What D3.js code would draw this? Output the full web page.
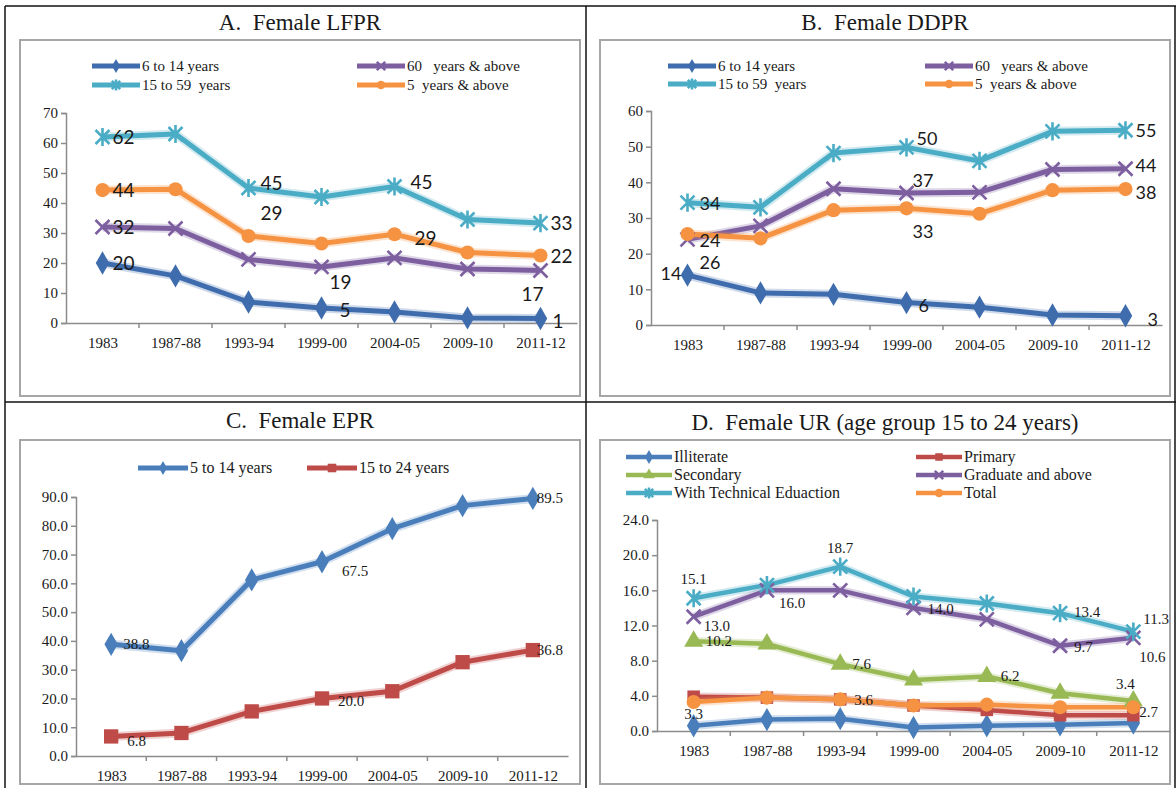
<!DOCTYPE html>
<html>
<head>
<meta charset="utf-8">
<script src="https://cdn.jsdelivr.net/npm/d3@7"></script>
<style>
body { margin: 0; background: #fff; }
svg text { fill: #1a1a1a; white-space: pre; }
</style>
</head>
<body>
<div id="chart"></div>
<script>
// ---- data ----
const years = ['1983', '1987-88', '1993-94', '1999-00', '2004-05', '2009-10', '2011-12'];

// A. Female LFPR
const lfprNames = ['6 to 14 years', '15 to 59  years', '60   years & above', '5  years & above'];
const lfpr6to14 = [20, 15.7, 7, 5, 3.7, 1.7, 1.5];
const lfpr15to59 = [62, 63, 45, 42, 45.5, 34.5, 33.3];
const lfpr60plus = [32, 31.5, 21.2, 18.7, 21.7, 18, 17.5];
const lfpr5plus = [44.3, 44.6, 29, 26.5, 29.6, 23.5, 22.5];
const lfprTicks = [0, 10, 20, 30, 40, 50, 60, 70];

// B. Female DDPR
const ddprNames = ['6 to 14 years', '15 to 59  years', '60   years & above', '5  years & above'];
const ddpr6to14 = [14, 9, 8.6, 6.3, 5, 2.8, 2.6];
const ddpr15to59 = [34.3, 33, 48.2, 49.8, 46, 54.3, 54.6];
const ddpr60plus = [24, 27.8, 38.2, 37, 37.2, 43.6, 43.8];
const ddpr5plus = [25.5, 24.3, 32.2, 32.7, 31.2, 37.8, 38.1];
const ddprTicks = [0, 10, 20, 30, 40, 50, 60];

// C. Female EPR
const eprNames = ['5 to 14 years', '15 to 24 years'];
const epr5to14 = [38.8, 36.6, 61.2, 67.5, 79, 87, 89.5];
const epr15to24 = [6.8, 8, 15.5, 20, 22.5, 32.6, 36.8];
const eprTicks = [0, 10, 20, 30, 40, 50, 60, 70, 80, 90];

// D. Female UR (age group 15 to 24 years)
const urNames = ['Illiterate', 'Primary', 'Secondary', 'Graduate and above', 'With Technical Eduaction', 'Total'];
const urIlliterate = [0.6, 1.3, 1.4, 0.4, 0.6, 0.7, 0.9];
const urPrimary = [3.9, 3.8, 3.6, 2.9, 2.4, 1.8, 1.8];
const urSecondary = [10.2, 9.9, 7.6, 5.8, 6.2, 4.3, 3.4];
const urGraduate = [13.0, 16.0, 16.0, 14.0, 12.7, 9.7, 10.6];
const urTechnical = [15.1, 16.6, 18.7, 15.3, 14.5, 13.4, 11.3];
const urTotal = [3.3, 3.8, 3.6, 2.9, 3.0, 2.7, 2.7];
const urTicks = [0, 4, 8, 12, 16, 20, 24];

// ---- colours ----
const blue = '#4a7ebb', darkBlue = '#3f6cad', red = '#be4b48', green = '#98b954',
	purple = '#7d5fa0', teal = '#4aacc5', orange = '#f59343';

const W = 1176, H = 788;
const serif = '"Liberation Serif", "DejaVu Serif", serif';
const sans = 'Lato, "Open Sans", sans-serif';

const svg = d3.select('#chart').append('svg').attr('width', W).attr('height', H);

// outer table lines
const grid = svg.append('g').attr('stroke', '#111').attr('stroke-width', 1.5);
grid.append('line').attr('x1', 5).attr('x2', W).attr('y1', 6).attr('y2', 6);
grid.append('line').attr('x1', 5).attr('x2', W).attr('y1', 402).attr('y2', 402);
grid.append('line').attr('x1', 5).attr('x2', 5).attr('y1', 6).attr('y2', H);
grid.append('line').attr('x1', 586).attr('x2', 586).attr('y1', 6).attr('y2', H);
grid.append('line').attr('x1', W - 1).attr('x2', W - 1).attr('y1', 6).attr('y2', H);

// marker shapes
const marker = (g, type, color, size) => {
	if (type === 'x' || type === 'star') {
		const r = size;
		let d = `M${-r},${-r}L${r},${r}M${-r},${r}L${r},${-r}`;
		if (type === 'star') d += `M0,${-r * 1.3}L0,${r * 1.3}`;
		g.append('path').attr('d', d).attr('stroke', color).attr('stroke-width', 2.6).attr('fill', 'none');
		return;
	}
	const sym = { diamond: d3.symbolDiamond, square: d3.symbolSquare, circle: d3.symbolCircle, triangle: d3.symbolTriangle }[type];
	g.append('path').attr('d', d3.symbol().type(sym).size(size * size * 3.2)()).attr('fill', color);
};

const drawPanel = (p) => {
	const g = svg.append('g');
	// chart area box
	g.append('rect')
		.attr('x', p.box[0]).attr('y', p.box[1])
		.attr('width', p.box[2] - p.box[0]).attr('height', p.box[3] - p.box[1])
		.attr('fill', 'none').attr('stroke', '#a6a6a6').attr('stroke-width', 2);
	g.append('text')
		.attr('x', (p.box[0] + p.box[2]) / 2).attr('y', p.titleY)
		.attr('text-anchor', 'middle')
		.style('font-family', serif).style('font-size', '23px')
		.text(p.title);

	const x = d3.scalePoint().domain(years).range([p.x0, p.x1]).padding(0.5);
	const y = d3.scaleLinear().domain([0, p.yMax]).range([p.y0, p.y1]);

	// axes
	const yAxis = g.append('g')
		.attr('transform', `translate(${p.x0},0)`)
		.call(d3.axisLeft(y).tickValues(p.ticks).tickSize(5).tickFormat(p.fmt));
	const xAxis = g.append('g')
		.attr('transform', `translate(0,${p.y0})`)
		.call(d3.axisBottom(x).tickSize(0).tickPadding(14));
	[yAxis, xAxis].forEach((a) => {
		a.select('.domain').attr('stroke', '#8c8c8c').attr('stroke-width', 1.5);
		a.selectAll('line').attr('stroke', '#8c8c8c').attr('stroke-width', 1.5);
		a.selectAll('text').style('font-family', serif).style('font-size', p.tickSize).attr('fill', '#1a1a1a');
	});
	// category boundary ticks
	const step = x.step();
	years.forEach((yr, i) => {
		if (i === 0) return;
		g.append('line')
			.attr('x1', x(yr) - step / 2).attr('x2', x(yr) - step / 2)
			.attr('y1', p.y0).attr('y2', p.y0 + 5)
			.attr('stroke', '#8c8c8c').attr('stroke-width', 1.5);
	});

	const line = d3.line().x((d, i) => x(years[i])).y((d) => y(d));

	// lines, then markers
	p.series.forEach((s) => {
		g.append('path').attr('d', line(s.values))
			.attr('fill', 'none').attr('stroke', s.color).attr('stroke-opacity', 0.25)
			.attr('stroke-width', p.lw + 4).attr('stroke-linejoin', 'round');
		g.append('path').attr('d', line(s.values))
			.attr('fill', 'none').attr('stroke', s.color)
			.attr('stroke-width', p.lw).attr('stroke-linejoin', 'round');
	});
	p.series.forEach((s) => {
		s.values.forEach((v, i) => {
			const m = g.append('g').attr('transform', `translate(${x(years[i])},${y(v)})`);
			marker(m, s.marker, s.color, s.ms);
		});
	});

	// data labels
	p.labels.forEach((l) => {
		const s = p.series[l.s];
		g.append('text')
			.attr('x', x(years[l.i]) + l.dx).attr('y', y(s.values[l.i]) + l.dy)
			.attr('text-anchor', l.a || 'start')
			.style('font-family', p.labelFont).style('font-size', p.labelSize)
			.text(l.t);
	});

	// legend
	p.legend.forEach((c) => {
		const s = p.series[c.s];
		g.append('line')
			.attr('x1', c.x).attr('x2', c.x + p.legW).attr('y1', c.y).attr('y2', c.y)
			.attr('stroke', s.color).attr('stroke-width', p.lw);
		const m = g.append('g').attr('transform', `translate(${c.x + p.legW / 2},${c.y})`);
		marker(m, s.marker, s.color, s.ms * 0.6);
		g.append('text')
			.attr('x', c.x + p.legW + 2).attr('y', c.y + 5)
			.style('font-family', serif).style('font-size', p.legSize)
			.text(s.name);
	});
};

// A
drawPanel({
	title: 'A.  Female LFPR', titleY: 30, box: [20, 40, 580, 396],
	x0: 66, x1: 577, y0: 323, y1: 113, yMax: 70, ticks: lfprTicks, fmt: d3.format('d'),
	tickSize: '15px', lw: 5, legW: 48, legSize: '15px',
	labelFont: sans, labelSize: '19px',
	series: [
		{ name: lfprNames[0], values: lfpr6to14, color: darkBlue, marker: 'diamond', ms: 7 },
		{ name: lfprNames[1], values: lfpr15to59, color: teal, marker: 'star', ms: 7 },
		{ name: lfprNames[2], values: lfpr60plus, color: purple, marker: 'x', ms: 7 },
		{ name: lfprNames[3], values: lfpr5plus, color: orange, marker: 'circle', ms: 7 },
	],
	legend: [
		{ s: 0, x: 92, y: 66 }, { s: 1, x: 92, y: 85 },
		{ s: 2, x: 357, y: 66 }, { s: 3, x: 357, y: 85 },
	],
	labels: [
		{ s: 1, i: 0, t: '62', dx: 10, dy: 7 }, { s: 1, i: 2, t: '45', dx: 12, dy: 2 },
		{ s: 1, i: 4, t: '45', dx: 16, dy: 2 }, { s: 1, i: 6, t: '33', dx: 10, dy: 7 },
		{ s: 3, i: 0, t: '44', dx: 10, dy: 7 }, { s: 3, i: 2, t: '29', dx: 12, dy: -16 },
		{ s: 3, i: 4, t: '29', dx: 20, dy: 11 }, { s: 3, i: 6, t: '22', dx: 10, dy: 7 },
		{ s: 2, i: 0, t: '32', dx: 10, dy: 7 }, { s: 2, i: 3, t: '19', dx: 8, dy: 22 },
		{ s: 2, i: 6, t: '17', dx: -8, dy: 30, a: 'middle' },
		{ s: 0, i: 0, t: '20', dx: 10, dy: 7 }, { s: 0, i: 3, t: '5', dx: 18, dy: 9 },
		{ s: 0, i: 6, t: '1', dx: 12, dy: 9 },
	],
});

// B
drawPanel({
	title: 'B.  Female DDPR', titleY: 30, box: [600, 40, 1170, 396],
	x0: 651, x1: 1162, y0: 325, y1: 111, yMax: 60, ticks: ddprTicks, fmt: d3.format('d'),
	tickSize: '15px', lw: 5, legW: 48, legSize: '15px',
	labelFont: sans, labelSize: '18px',
	series: [
		{ name: ddprNames[0], values: ddpr6to14, color: darkBlue, marker: 'diamond', ms: 7 },
		{ name: ddprNames[1], values: ddpr15to59, color: teal, marker: 'star', ms: 7 },
		{ name: ddprNames[2], values: ddpr60plus, color: purple, marker: 'x', ms: 7 },
		{ name: ddprNames[3], values: ddpr5plus, color: orange, marker: 'circle', ms: 7 },
	],
	legend: [
		{ s: 0, x: 668, y: 66 }, { s: 1, x: 668, y: 84 },
		{ s: 2, x: 925, y: 66 }, { s: 3, x: 925, y: 84 },
	],
	labels: [
		{ s: 0, i: 0, t: '14', dx: -6, dy: 5, a: 'end' }, { s: 0, i: 3, t: '6', dx: 12, dy: 9 },
		{ s: 0, i: 6, t: '3', dx: 22, dy: 10 },
		{ s: 1, i: 0, t: '34', dx: 12, dy: 7 }, { s: 1, i: 3, t: '50', dx: 10, dy: -2 },
		{ s: 1, i: 6, t: '55', dx: 10, dy: 7 },
		{ s: 2, i: 0, t: '24', dx: 12, dy: 8 }, { s: 2, i: 3, t: '37', dx: 6, dy: -6 },
		{ s: 2, i: 6, t: '44', dx: 10, dy: 3 },
		{ s: 3, i: 0, t: '26', dx: 12, dy: 35 }, { s: 3, i: 3, t: '33', dx: 6, dy: 30 },
		{ s: 3, i: 6, t: '38', dx: 10, dy: 10 },
	],
});

// C
drawPanel({
	title: 'C.  Female EPR', titleY: 428, box: [20, 440, 580, 784],
	x0: 76, x1: 568, y0: 756, y1: 497, yMax: 90, ticks: eprTicks, fmt: d3.format('.1f'),
	tickSize: '15px', lw: 5, legW: 50, legSize: '16px',
	labelFont: serif, labelSize: '15px',
	series: [
		{ name: eprNames[0], values: epr5to14, color: blue, marker: 'diamond', ms: 7 },
		{ name: eprNames[1], values: epr15to24, color: red, marker: 'square', ms: 8 },
	],
	legend: [{ s: 0, x: 138, y: 468 }, { s: 1, x: 307, y: 468 }],
	labels: [
		{ s: 0, i: 0, t: '38.8', dx: 12, dy: 5 }, { s: 0, i: 3, t: '67.5', dx: 20, dy: 14 },
		{ s: 0, i: 6, t: '89.5', dx: 4, dy: 5 },
		{ s: 1, i: 0, t: '6.8', dx: 16, dy: 10 }, { s: 1, i: 3, t: '20.0', dx: 16, dy: 8 },
		{ s: 1, i: 6, t: '36.8', dx: 4, dy: 5 },
	],
});

// D
drawPanel({
	title: 'D.  Female UR (age group 15 to 24 years)', titleY: 430, box: [600, 440, 1170, 784],
	x0: 657, x1: 1170, y0: 731, y1: 520, yMax: 24, ticks: urTicks, fmt: d3.format('.1f'),
	tickSize: '15px', lw: 4.5, legW: 46, legSize: '16px',
	labelFont: serif, labelSize: '15px',
	series: [
		{ name: urNames[0], values: urIlliterate, color: blue, marker: 'diamond', ms: 7 },
		{ name: urNames[1], values: urPrimary, color: red, marker: 'square', ms: 7 },
		{ name: urNames[2], values: urSecondary, color: green, marker: 'triangle', ms: 7 },
		{ name: urNames[3], values: urGraduate, color: purple, marker: 'x', ms: 7 },
		{ name: urNames[4], values: urTechnical, color: teal, marker: 'star', ms: 7 },
		{ name: urNames[5], values: urTotal, color: orange, marker: 'circle', ms: 7 },
	],
	legend: [
		{ s: 0, x: 626, y: 457 }, { s: 1, x: 916, y: 457 },
		{ s: 2, x: 626, y: 475 }, { s: 3, x: 916, y: 475 },
		{ s: 4, x: 626, y: 493 }, { s: 5, x: 916, y: 493 },
	],
	labels: [
		{ s: 4, i: 0, t: '15.1', dx: 0, dy: -14, a: 'middle' }, { s: 4, i: 2, t: '18.7', dx: 0, dy: -14, a: 'middle' },
		{ s: 4, i: 5, t: '13.4', dx: 14, dy: 4 }, { s: 4, i: 6, t: '11.3', dx: 10, dy: -8 },
		{ s: 3, i: 0, t: '13.0', dx: 10, dy: 14 }, { s: 3, i: 1, t: '16.0', dx: 12, dy: 18 },
		{ s: 3, i: 3, t: '14.0', dx: 14, dy: 6 }, { s: 3, i: 5, t: '9.7', dx: 14, dy: 6 },
		{ s: 3, i: 6, t: '10.6', dx: 6, dy: 24 },
		{ s: 2, i: 0, t: '10.2', dx: 12, dy: 5 }, { s: 2, i: 2, t: '7.6', dx: 12, dy: 5 },
		{ s: 2, i: 4, t: '6.2', dx: 14, dy: 5 }, { s: 2, i: 6, t: '3.4', dx: -8, dy: -12, a: 'middle' },
		{ s: 5, i: 0, t: '3.3', dx: 0, dy: 17, a: 'middle' }, { s: 5, i: 2, t: '3.6', dx: 14, dy: 6 },
		{ s: 5, i: 6, t: '2.7', dx: 6, dy: 10 },
	],
});
</script>
</body>
</html>
